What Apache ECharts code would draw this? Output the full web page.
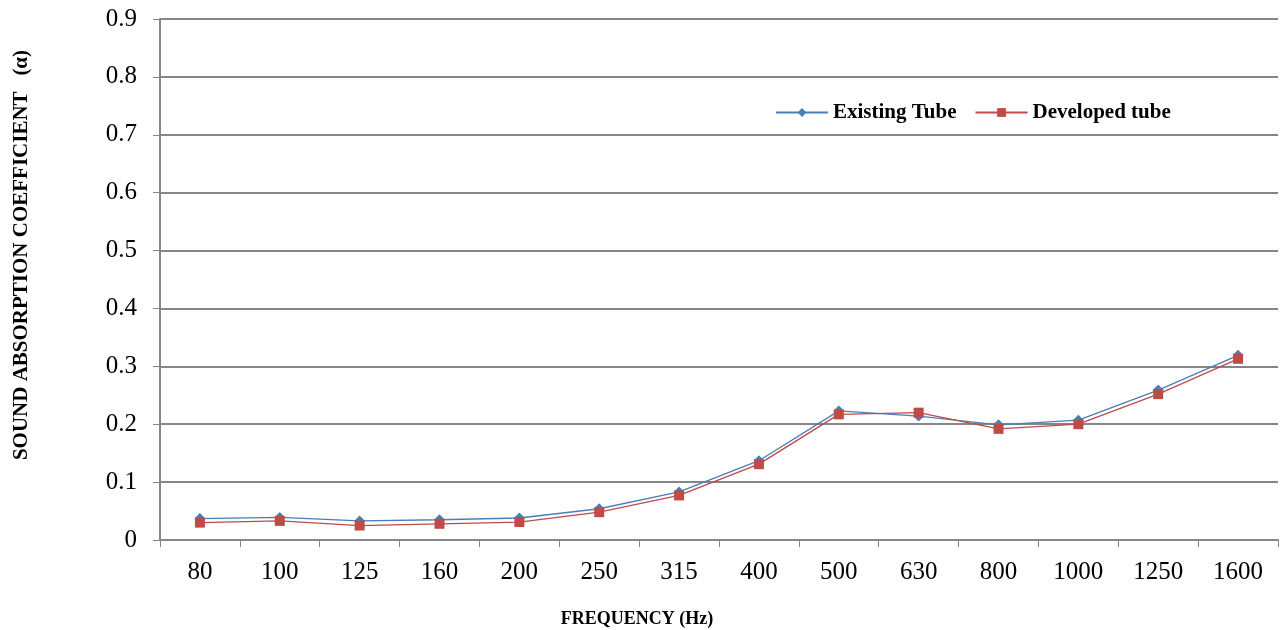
<!DOCTYPE html>
<html><head><meta charset="utf-8">
<script src="https://cdn.jsdelivr.net/npm/echarts@6/dist/echarts.min.js"></script>
<style>html,body{margin:0;padding:0;background:#fff}#c{width:1280px;height:630px}</style>
</head><body><div id="c"></div>
<script>
const categories = ['80','100','125','160','200','250','315','400','500','630','800','1000','1250','1600'];
const existingTube = [0.037,0.039,0.033,0.035,0.038,0.054,0.083,0.137,0.223,0.214,0.199,0.207,0.259,0.319];
const developedTube = [0.030,0.033,0.025,0.028,0.031,0.048,0.077,0.131,0.217,0.220,0.192,0.200,0.252,0.313];
const yTicks = {min:0, max:0.9, interval:0.1};

const chart = echarts.init(document.getElementById('c'));
const serif = '"Liberation Serif","Times New Roman",serif';
chart.setOption({
  animation:false,
  grid:{left:160,right:2,top:19,bottom:90},
  legend:{
    left:770, top:97, itemWidth:52, itemHeight:11, itemGap:18,
    textStyle:{fontFamily:serif,fontWeight:'bold',fontSize:21,color:'#000'},
    data:['Existing Tube','Developed tube']
  },
  xAxis:{
    type:'category', data:categories, boundaryGap:true,
    axisLine:{lineStyle:{color:'#868686',width:2}},
    axisTick:{show:true,length:7,lineStyle:{color:'#868686',width:1}},
    axisLabel:{fontFamily:serif,fontSize:25,color:'#000',margin:20}
  },
  yAxis:{
    type:'value', min:yTicks.min, max:yTicks.max, interval:yTicks.interval,
    axisLine:{show:true,lineStyle:{color:'#868686',width:2}},
    axisTick:{show:true,length:7,lineStyle:{color:'#868686',width:1}},
    splitLine:{lineStyle:{color:'#868686',width:2}},
    axisLabel:{fontFamily:serif,fontSize:25,color:'#000',margin:23,
      formatter:v=>v===0?'0':v.toFixed(1)}
  },
  graphic:[
    {type:'text',x:637,y:619,style:{text:'FREQUENCY (Hz)',font:'bold 18px "Liberation Serif",serif',fill:'#000',align:'center',verticalAlign:'middle'}},
    {type:'text',x:22,y:255,rotation:Math.PI/2,style:{text:'SOUND ABSORPTION COEFFICIENT   (α)',font:'bold 21px "Liberation Serif",serif',fill:'#000',align:'center',verticalAlign:'middle'}}
  ],
  series:[
    {name:'Existing Tube',type:'line',data:existingTube,symbol:'diamond',symbolSize:11,
     lineStyle:{color:'#4a7ebb',width:1.3},itemStyle:{color:'#4a7ebb'}},
    {name:'Developed tube',type:'line',data:developedTube,symbol:'rect',symbolSize:10,
     lineStyle:{color:'#be4b48',width:1.3},itemStyle:{color:'#be4b48'}}
  ]
});
</script></body></html>
